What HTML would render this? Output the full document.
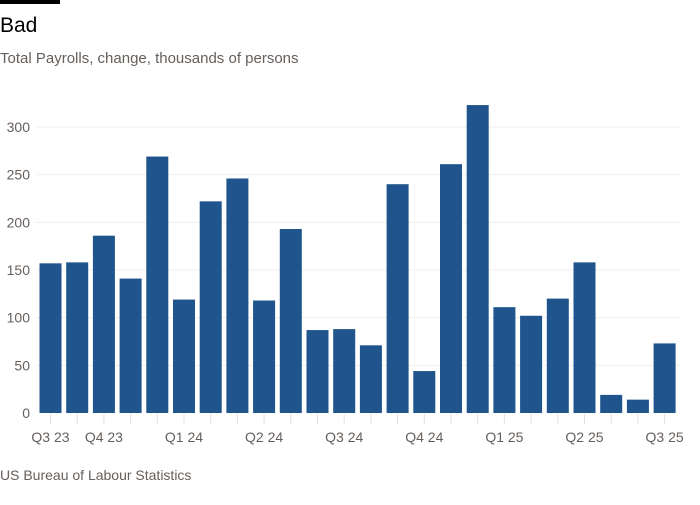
<!DOCTYPE html>
<html><head><meta charset="utf-8"><style>
body{margin:0;background:#fff;font-family:"Liberation Sans",sans-serif;}
svg text{font-family:"Liberation Sans",sans-serif;}
</style></head><body>
<svg id="chart" width="700" height="500">
<rect x="0" y="0" width="60" height="4" fill="#000"/>
<text x="0" y="32" font-size="21" fill="#000">Bad</text>
<text x="0" y="63" font-size="15" fill="#66605c">Total Payrolls, change, thousands of persons</text>
<g id="grid"></g><g id="bars"></g><g id="xaxis"></g>
<text x="0" y="480" font-size="14" fill="#66605c">US Bureau of Labour Statistics</text>
</svg>
<script>
const values=[157,158,186,141,269,119,222,246,118,193,87,88,71,240,44,261,323,111,102,120,158,19,14,73];
const tickValues=[0,50,100,150,200,250,300];
const quarterLabels=["Q3 23","Q4 23","Q1 24","Q2 24","Q3 24","Q4 24","Q1 25","Q2 25","Q3 25"];
const labelIndex=[0,2,5,8,11,14,17,20,23];
const NS="http://www.w3.org/2000/svg";
const x0=39.5,step=26.7,bw=22,y0=413,yk=286/300;
const y=v=>y0-v*yk, xc=i=>x0+i*step+bw/2;
function mk(t,a,p){const e=document.createElementNS(NS,t);for(const k in a)e.setAttribute(k,a[k]);p.appendChild(e);return e;}
const g=document.getElementById('grid');
tickValues.forEach(v=>{
 if(v>0){const l=mk('line',{x1:36,x2:680,y1:y(v),y2:y(v),stroke:'#f0eeec','stroke-width':1},g);
 
 }
 const t=mk('text',{x:30,y:y(v)+5,'text-anchor':'end','font-size':'14',fill:'#66605c'},g);
 t.textContent=v;
 
 
});
const b=document.getElementById('bars');
values.forEach((v,i)=>{
 const r=mk('rect',{x:x0+i*step,y:y(v),width:bw,height:v*yk,fill:'#1f548c'},b);
 
 
});
const xa=document.getElementById('xaxis');
values.forEach((v,i)=>{
 const l=mk('line',{x1:xc(i),x2:xc(i),y1:y0+1,y2:y0+11,stroke:'#e4e0dc','stroke-width':1},xa);
 
 
});
quarterLabels.forEach((s,k)=>{
 const t=mk('text',{x:xc(labelIndex[k]),y:442,'text-anchor':'middle','font-size':'14',fill:'#66605c'},xa);
 t.textContent=s;
 
 
});
</script>
</body></html>
